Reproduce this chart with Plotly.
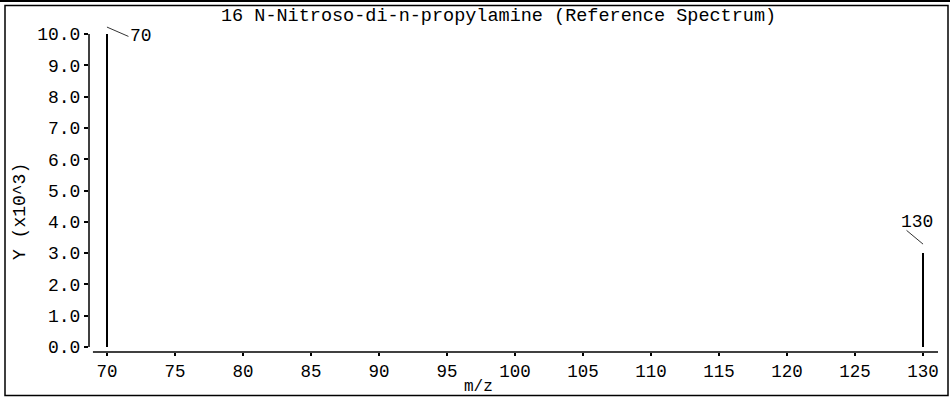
import plotly.graph_objects as go

# ---- data ----
mz = [70, 130]
intensity_k = [10.0, 3.0]          # Y (x10^3)
peak_labels = ["70", "130"]
x_ticks = [70, 75, 80, 85, 90, 95, 100, 105, 110, 115, 120, 125, 130]
y_ticks = [0, 1, 2, 3, 4, 5, 6, 7, 8, 9, 10]
title_text = "16 N-Nitroso-di-n-propylamine (Reference Spectrum)"

FONT = "Liberation Mono"
FS = 18.5
TFS = 18

W, H = 950, 397
L, R, T, B = 89, 12, 30, 45
pw = W - L - R
ph = H - T - B

def px_x(p):  # pixel -> paper x
    return (p - L) / pw

def px_y(p):  # pixel -> paper y
    return (H - B - p) / ph

fig = go.Figure()
fig.add_trace(go.Bar(x=mz, y=intensity_k, width=0.12,
                     marker=dict(color="black", line=dict(width=0)),
                     hoverinfo="x+y"))

# peak labels: (text shift x, text shift y, leader shift y, leader ax, leader ay)
label_style = [(34, -2, 7, 23, 10), (-6, 31, 9, -18, -15)]
for xv, yv, lab, (sx, sy, ly, ax, ay) in zip(mz, intensity_k, peak_labels, label_style):
    fig.add_annotation(x=xv, y=yv, text=lab, showarrow=False, xshift=sx, yshift=sy,
                       font=dict(family=FONT, size=TFS, color="black"))
    fig.add_annotation(x=xv, y=yv, text="", showarrow=True, arrowhead=0, yshift=ly,
                       arrowwidth=1, arrowcolor="#333", ax=ax, ay=ay, standoff=0)

# title and axis titles
fig.add_annotation(xref="paper", yref="paper", x=px_x(498), y=px_y(16),
                   text=title_text, showarrow=False, xanchor="center", yanchor="middle",
                   font=dict(family=FONT, size=FS, color="black"))
fig.add_annotation(xref="paper", yref="paper", x=px_x(20), y=px_y(212),
                   text="Y (x10^3)", showarrow=False, textangle=-90,
                   xanchor="center", yanchor="middle",
                   font=dict(family=FONT, size=TFS, color="black"))
fig.add_annotation(xref="paper", yref="paper", x=px_x(478), y=px_y(386.5),
                   text="m/z", showarrow=False, xanchor="center", yanchor="middle",
                   font=dict(family=FONT, size=16, color="black"))

# axis lines (detached style)
fig.add_shape(type="line", xref="paper", yref="y", x0=0, x1=0, y0=0, y1=10,
              line=dict(color="black", width=1.5))
fig.add_shape(type="line", xref="x", yref="paper", x0=68.97, x1=131.1, y0=0, y1=0,
              line=dict(color="black", width=1.5))

# outer frame
fig.add_shape(type="rect", xref="paper", yref="paper",
              x0=px_x(5), x1=px_x(948), y0=px_y(395.5), y1=px_y(5.5),
              line=dict(color="black", width=1.5))
fig.add_shape(type="line", xref="paper", yref="paper",
              x0=px_x(0), x1=px_x(950), y0=px_y(1), y1=px_y(1),
              line=dict(color="black", width=2))

fig.update_layout(
    width=W, height=H,
    margin=dict(l=L, r=R, t=T, b=B, pad=0),
    paper_bgcolor="white", plot_bgcolor="white",
    showlegend=False,
    font=dict(family=FONT, size=TFS, color="black"),
    xaxis=dict(range=[68.68, 131.1], tickvals=x_ticks, showgrid=False, zeroline=False,
               showline=False, ticks="outside", ticklen=3, tickwidth=1.5,
               tickcolor="black", tickfont=dict(family=FONT, size=17.5)),
    yaxis=dict(range=[-0.16, 10.13], tickvals=y_ticks, tickformat=".1f", showgrid=False,
               zeroline=False, showline=False, ticks="outside", ticklen=4, tickwidth=1.5,
               tickcolor="black", tickfont=dict(family=FONT, size=TFS)),
    bargap=0,
)

fig.write_html("out.html", config={"displayModeBar": False},
               post_script="document.body.style.margin='0px';document.body.style.overflow='hidden';")
